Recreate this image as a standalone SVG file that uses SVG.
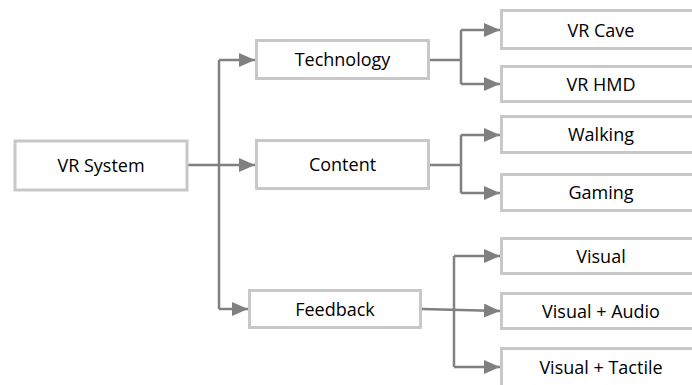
<svg xmlns="http://www.w3.org/2000/svg" width="692" height="385" viewBox="0 0 692 385">
<style>
.box{fill:#fff;stroke:#c8c8c8;stroke-width:3}
.lbl{font-family:"Open Sans","Liberation Sans",sans-serif;font-size:18px;fill:#000;text-anchor:middle}
.ln{fill:none;stroke:#808080;stroke-width:2.5}
.arr{fill:none;stroke:#808080;stroke-width:2.5;marker-end:url(#ah)}
</style>
<defs>
<marker id="ah" markerUnits="userSpaceOnUse" markerWidth="16" markerHeight="14" refX="16" refY="7" orient="auto" viewBox="0 0 16 14">
<path d="M0,0 L16,7 L0,14 Z" fill="#808080"/>
</marker>
</defs>
<rect width="692" height="385" fill="#fff"/>
<g id="connectors">
<path class="arr" d="M188,165 H255"/>
<path class="ln" d="M219,60 V309"/>
<path class="arr" d="M219,60 H255"/>
<path class="arr" d="M219,309 H248"/>
<path class="ln" d="M430,60 H461 M461,30 V84"/>
<path class="arr" d="M461,30 H500"/>
<path class="arr" d="M461,84 H500"/>
<path class="ln" d="M430,165 H461 M461,135 V193"/>
<path class="arr" d="M461,135 H500"/>
<path class="arr" d="M461,193 H500"/>
<path class="arr" d="M422,309 L500,311"/>
<path class="ln" d="M454,256 V367"/>
<path class="arr" d="M454,256 H500"/>
<path class="arr" d="M454,367 H500"/>
</g>
<g id="vr-system"><rect class="box" x="15" y="141" width="172" height="49"/><text class="lbl" x="101" y="172">VR System</text></g>
<g id="technology"><rect class="box" x="256.5" y="40.5" width="172" height="38"/><text class="lbl" x="342.5" y="66">Technology</text></g>
<g id="content"><rect class="box" x="256.5" y="140.5" width="172" height="48"/><text class="lbl" x="342.5" y="171">Content</text></g>
<g id="feedback"><rect class="box" x="249.5" y="290.5" width="171" height="37"/><text class="lbl" x="335" y="315.5">Feedback</text></g>
<g id="vr-cave"><rect class="box" x="501.5" y="10.5" width="200" height="38"/><text class="lbl" x="601" y="37">VR Cave</text></g>
<g id="vr-hmd"><rect class="box" x="501.5" y="66.5" width="200" height="35"/><text class="lbl" x="601" y="90.5">VR HMD</text></g>
<g id="walking"><rect class="box" x="501.5" y="116.5" width="200" height="36"/><text class="lbl" x="601" y="141">Walking</text></g>
<g id="gaming"><rect class="box" x="501.5" y="174.5" width="200" height="36"/><text class="lbl" x="601" y="199">Gaming</text></g>
<g id="visual"><rect class="box" x="501.5" y="238.5" width="200" height="35"/><text class="lbl" x="601" y="262.5">Visual</text></g>
<g id="visual-audio"><rect class="box" x="501.5" y="293.5" width="200" height="35"/><text class="lbl" x="601" y="317.5">Visual + Audio</text></g>
<g id="visual-tactile"><rect class="box" x="501.5" y="348.5" width="200" height="40"/><text class="lbl" x="601" y="374">Visual + Tactile</text></g>
</svg>
